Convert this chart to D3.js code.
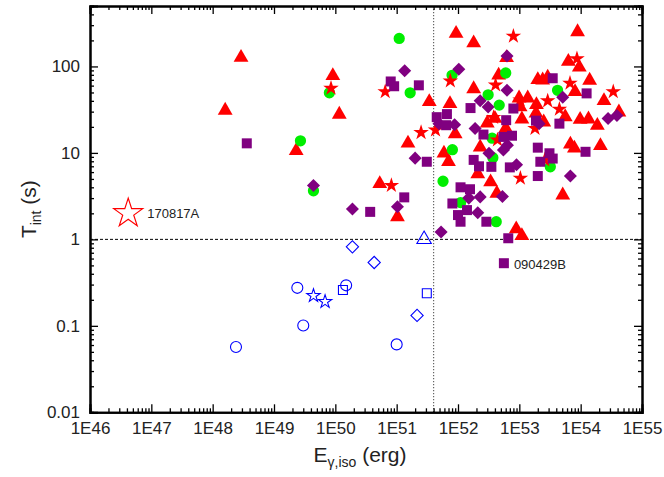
<!DOCTYPE html>
<html><head><meta charset="utf-8">
<script src="https://cdn.jsdelivr.net/npm/d3@7"></script>
<style>
html,body{margin:0;padding:0;background:#fff;}
svg{display:block;font-family:"Liberation Sans",Arial,sans-serif;}
</style></head>
<body><svg id="c" width="664" height="477"></svg>
<script>
// ---- data: [E_gamma,iso (erg), T_int (s)] ----
const redTriangles = [[2.9e48,127],[1.6e48,31],[2.3e49,10.6],[9.1e49,78],[1.16e50,27.9],[9.3e51,240],[1.8e52,187],[8.9e53,251],[6.2e52,126],[3.4e51,39],[7.4e51,37],[4.6e52,79],[1.8e52,55],[9.9e52,43],[1.37e53,43],[2.0e53,70],[2.4e53,69.5],[2.9e53,75],[6.3e53,114],[9.5e53,98],[1.4e54,69],[8.1e53,51],[2.4e54,40],[4.2e54,29.6],[1.87e54,20.7],[9.8e53,24.3],[1.34e54,24.6],[5.6e53,26.1],[2.5e53,22.7],[1.87e53,28.8],[1.9e53,36],[1.1e53,24.6],[1.03e53,34],[3.0e52,22.1],[4.0e52,25],[9.0e51,16.5],[6.0e52,19.2],[1.53e51,12.9],[2.3e52,11.6],[5.9e51,9.9],[7.0e51,7.9],[6.8e53,12.6],[7.9e53,11.3],[2.1e54,12.1],[5.1e53,3.25],[2.1e52,5.7],[3.4e52,4.6],[5.3e50,4.4],[1.03e51,1.82],[4.3e52,3.4],[8.9e52,1.32],[1.1e53,1.1]];
const redStars = [[8.5e49,56],[6.5e50,51],[7.5e51,68],[8.0e52,224],[4.1e52,61],[1.03e53,41],[2.9e53,40],[4.5e53,32],[6.7e53,64],[8.7e53,123],[3.4e54,51],[3.8e52,25.7],[2.5e51,17.2],[4.3e51,18.4],[4.4e52,14.1],[8.2e50,4.2],[1.04e53,5.1],[1.8e53,19.2],[2.6e53,8.3]];
const purpleSquares = [[3.6e48,12.9],[8.0e50,67],[9.1e50,59],[2.3e51,60.5],[3.1e51,7.9],[3.7e50,2.08],[1.33e51,3.06],[1.6e52,33],[8.0e52,32.6],[4.5e51,25.9],[6.6e51,28.1],[6.4e51,20.9],[2.6e52,16.3],[5.5e52,15.3],[7.6e52,15.8],[6.1e52,23.9],[3.5e53,73],[1.25e54,48.8],[1.87e53,23.6],[4.5e53,21.8],[2.0e53,11.5],[3.1e53,9.9],[3.5e53,8.6],[2.2e53,7.9],[1.2e54,10.3],[2.0e53,5.4],[1.8e52,8.3],[2.2e52,7.0],[3.5e52,6.9],[7.0e52,6.8],[1.1e52,4.0],[1.57e52,3.8],[8.1e51,2.6],[1.4e52,2.18],[1.0e52,1.91],[1.1e52,1.6],[2.9e52,1.6],[6.6e52,1.03]];
const purpleDiamonds = [[4.4e49,4.2],[1.35e51,89],[1.03e52,93],[6.3e52,132],[6.3e52,53],[2.3e52,40],[3.1e52,34],[5.1e53,44],[2.8e54,25],[3.9e54,27],[2.1e53,21.8],[4.9e51,21.8],[8.8e51,21.2],[1.9e52,19.2],[3.2e52,9.9],[6.4e52,12.3],[5.5e52,10.8],[2.0e51,8.7],[1.9e50,2.24],[1.03e51,2.38],[9.0e52,7.3],[6.8e53,5.4],[2.3e52,3.1],[1.5e52,3.0],[5.3e52,3.14],[2.1e52,2.03],[5.3e51,1.22]];
const greenCircles = [[1.1e51,211],[8.0e51,79],[1.66e51,49.5],[6.0e52,84],[3.1e52,47],[4.7e52,35.7],[4.2e53,53],[3.6e52,14.8],[8.1e51,10.9],[3.7e52,8.8],[5.7e51,4.7],[1.1e52,2.66],[4.2e52,1.6],[3.2e53,6.9],[2.7e49,13.8],[4.4e49,3.65],[8.0e49,49.5]];
const blueCircles = [[2.4e48,0.057],[2.4e49,0.275],[3.0e49,0.101],[1.5e50,0.294],[1.0e51,0.061]];
const blueStars = [[4.4e49,0.223],[6.8e49,0.19]];
const blueDiamonds = [[1.9e50,0.82],[4.3e50,0.54],[2.15e51,0.132]];
const blueSquares = [[1.33e50,0.26],[3.1e51,0.238]];
const blueTriangles = [[2.8e51,1.0]];
const labelled = [{name:"170817A", E:4.2e46, T:2.0},{name:"090429B", E:5.6e52, T:0.53}];
const xMajor = [1e46,1e47,1e48,1e49,1e50,1e51,1e52,1e53,1e54,1e55];
const xLabels = ["1E46","1E47","1E48","1E49","1E50","1E51","1E52","1E53","1E54","1E55"];
const yMajor = [0.01,0.1,1,10,100];
const yLabels = ["0.01","0.1","1","10","100"];
const yLine = 1;       // horizontal dashed reference
const xLine = 4.0e51;  // vertical dotted reference

// ---- layout ----
const L=90, R=642, T=6, B=412.3;
const svg = d3.select("#c");
const x = d3.scaleLog().domain([1e46,1e55]).range([L,R]);
const y = d3.scaleLog().domain([0.01,500]).range([B,T]);

const xMinor=[]; for(let e=46;e<55;e++) for(let m=2;m<=9;m++) xMinor.push(m*Math.pow(10,e));
const yMinor=[]; for(let e=-2;e<3;e++) for(let m=2;m<=9;m++){const v=m*Math.pow(10,e); if(v<=500) yMinor.push(v);}

// reference lines
svg.append("line").attr("x1",L).attr("x2",R).attr("y1",y(yLine)).attr("y2",y(yLine))
  .attr("stroke","#000").attr("stroke-width",1).attr("stroke-dasharray","3,2");
svg.append("line").attr("x1",x(xLine)).attr("x2",x(xLine)).attr("y1",T).attr("y2",B)
  .attr("stroke","#666").attr("stroke-width",1.2).attr("stroke-dasharray","1.2,1.8");

// markers
const g = svg.append("g");
function plot(data, type, size, fill, stroke, rot, sw){
  g.selectAll(null).data(data).enter().append("path")
    .attr("d", d3.symbol().type(type).size(size)())
    .attr("transform", d=>`translate(${x(d[0])},${y(d[1])})${rot?" rotate("+rot+")":""}`)
    .attr("fill", fill).attr("stroke", stroke||"none").attr("stroke-width", sw||1);
}
plot(redTriangles, d3.symbolTriangle, 95, "#ff0000");
plot(greenCircles, d3.symbolCircle, 100, "#00ee00");
plot(redStars, d3.symbolStar, 75, "#ff0000");
plot(purpleSquares, d3.symbolSquare, 100, "#800080");
plot(purpleDiamonds, d3.symbolSquare, 85, "#800080", null, 45);
plot(blueCircles, d3.symbolCircle, 95, "none", "#0000ff", 0, 1.1);
plot(blueStars, d3.symbolStar, 55, "none", "#0000ff", 0, 1.1);
plot(blueDiamonds, d3.symbolSquare, 75, "none", "#0000ff", 45, 1.1);
plot(blueSquares, d3.symbolSquare, 80, "none", "#0000ff", 0, 1.1);
plot(blueTriangles, d3.symbolTriangle, 90, "none", "#0000ff", 0, 1.1);

// labelled bursts
plot([[labelled[0].E,labelled[0].T]], d3.symbolStar, 260, "none", "#ff0000", 0, 1.2);
plot([[labelled[1].E,labelled[1].T]], d3.symbolSquare, 100, "#800080");
svg.append("text").attr("x",x(labelled[0].E)+19).attr("y",y(labelled[0].T)+5)
  .attr("font-size",13).attr("fill","#222").text(labelled[0].name);
svg.append("text").attr("x",x(labelled[1].E)+10).attr("y",y(labelled[1].T)+6)
  .attr("font-size",13).attr("fill","#222").text(labelled[1].name);

// axes
function styleAxis(sel){ sel.selectAll("path.domain").attr("stroke","#000").attr("stroke-width",2);
  sel.selectAll(".tick line").attr("stroke","#000").attr("stroke-width",1.3);
  sel.selectAll("text").attr("font-size",17).attr("fill","#222").attr("font-family","Liberation Sans, Arial, sans-serif"); }
const fmtX = d=>xLabels[xMajor.findIndex(v=>Math.abs(v-d)/d<1e-6)];
const fmtY = d=>yLabels[yMajor.findIndex(v=>Math.abs(v-d)/d<1e-6)];
svg.append("g").attr("transform",`translate(0,${B})`).call(d3.axisBottom(x).tickValues(xMinor).tickSize(-4).tickFormat("")).call(styleAxis);
svg.append("g").attr("transform",`translate(0,${B})`).call(d3.axisBottom(x).tickValues(xMajor).tickSize(-8).tickPadding(10).tickFormat(fmtX)).call(styleAxis);
svg.append("g").attr("transform",`translate(0,${T})`).call(d3.axisTop(x).tickValues(xMinor).tickSize(-4).tickFormat("")).call(styleAxis);
svg.append("g").attr("transform",`translate(0,${T})`).call(d3.axisTop(x).tickValues(xMajor).tickSize(-8).tickFormat("")).call(styleAxis);
svg.append("g").attr("transform",`translate(${L},0)`).call(d3.axisLeft(y).tickValues(yMinor).tickSize(-4).tickFormat("")).call(styleAxis);
svg.append("g").attr("transform",`translate(${L},0)`).call(d3.axisLeft(y).tickValues(yMajor).tickSize(-8).tickPadding(10).tickFormat(fmtY)).call(styleAxis);
svg.append("g").attr("transform",`translate(${R},0)`).call(d3.axisRight(y).tickValues(yMinor).tickSize(-4).tickFormat("")).call(styleAxis);
svg.append("g").attr("transform",`translate(${R},0)`).call(d3.axisRight(y).tickValues(yMajor).tickSize(-8).tickFormat("")).call(styleAxis);

// axis titles
const xt = svg.append("text").attr("x",(L+R)/2 - 6).attr("y",462).attr("text-anchor","middle")
  .attr("font-size",21).attr("fill","#222");
xt.append("tspan").text("E");
xt.append("tspan").attr("font-size",14).attr("dy",5).text("γ,iso");
xt.append("tspan").attr("dy",-5).text(" (erg)");
const yt = svg.append("text").attr("transform",`translate(36,${(T+B)/2}) rotate(-90)`).attr("text-anchor","middle")
  .attr("font-size",21).attr("fill","#222");
yt.append("tspan").text("T");
yt.append("tspan").attr("font-size",14).attr("dy",5).text("int");
yt.append("tspan").attr("dy",-5).text(" (s)");
</script></body></html>
